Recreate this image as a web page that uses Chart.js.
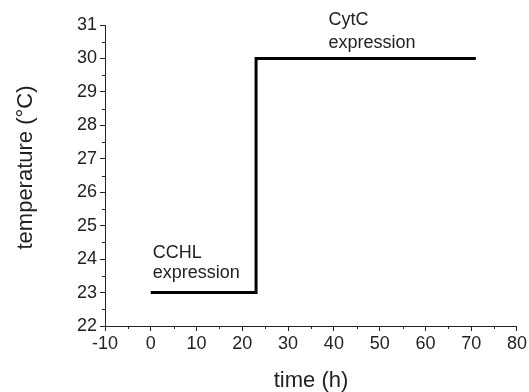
<!DOCTYPE html>
<html>
<head>
<meta charset="utf-8">
<script src="https://cdn.jsdelivr.net/npm/chart.js@4"></script>
<style>
  html, body { margin: 0; padding: 0; background: #fff; }
  #wrap { width: 529px; height: 392px; }
</style>
</head>
<body>
<div id="wrap"><canvas id="myChart"></canvas></div>
<script>
// data
const timeHours = [0, 23, 23, 71];
const temperature = [23, 23, 30, 30];
const xTicks = [-10, 0, 10, 20, 30, 40, 50, 60, 70, 80];
const yTicks = [22, 23, 24, 25, 26, 27, 28, 29, 30, 31];
const noteText = [['CCHL', 'expression'], ['CytC', 'expression']];
const noteAt = [{ x: 0, y: 23 }, { x: 38.4, y: 30 }];
const yTitle = 'temperature (°C)';

const FONT = "'Liberation Sans', Arial, sans-serif";

// minor ticks, text notes and the y title (sits a bit above centre in the original)
const extras = {
  id: 'extras',
  afterDraw(chart) {
    const ctx = chart.ctx;
    const xs = chart.scales.x, ys = chart.scales.y;
    ctx.save();
    ctx.strokeStyle = '#222';
    ctx.lineWidth = 1;
    for (let v = -5; v < 80; v += 10) {
      const px = Math.round(xs.getPixelForValue(v)) + 0.5;
      ctx.beginPath();
      ctx.moveTo(px, ys.bottom);
      ctx.lineTo(px, ys.bottom + 3);
      ctx.stroke();
    }
    for (let v = 22.5; v < 31; v += 1) {
      const py = Math.round(ys.getPixelForValue(v)) + 0.5;
      ctx.beginPath();
      ctx.moveTo(xs.left, py);
      ctx.lineTo(xs.left - 3, py);
      ctx.stroke();
    }
    ctx.fillStyle = '#222';
    ctx.font = '18px ' + FONT;
    ctx.textAlign = 'left';
    ctx.textBaseline = 'alphabetic';
    // first note sits a little higher above its line than the second
    const lift = [[35, 15], [33, 10]];
    noteText.forEach((lines, i) => {
      const px = xs.getPixelForValue(noteAt[i].x) + 2;
      const py = ys.getPixelForValue(noteAt[i].y);
      ctx.fillText(lines[0], px, py - lift[i][0]);
      ctx.fillText(lines[1], px, py - lift[i][1]);
    });

    ctx.font = '22px ' + FONT;
    ctx.textAlign = 'center';
    ctx.textBaseline = 'middle';
    ctx.translate(26, (ys.top + ys.bottom) / 2 - 8);
    ctx.rotate(-Math.PI / 2);
    ctx.fillText(yTitle, 0, 0);
    ctx.restore();
  }
};

new Chart(document.getElementById('myChart'), {
  type: 'line',
  data: {
    datasets: [{
      data: timeHours.map((t, i) => ({ x: t, y: temperature[i] })),
      borderColor: '#000',
      borderWidth: 3,
      pointRadius: 0,
      fill: false,
      tension: 0
    }]
  },
  options: {
    responsive: true,
    maintainAspectRatio: false,
    animation: false,
    layout: { padding: { top: 25, right: 12, left: 0, bottom: 0 } },
    plugins: { legend: { display: false }, tooltip: { enabled: false } },
    scales: {
      x: {
        type: 'linear',
        min: -10,
        max: 80,
        afterBuildTicks: s => { s.ticks = xTicks.map(v => ({ value: v })); },
        afterFit: s => { s.height = 66; },
        border: { display: true, color: '#222', width: 1 },
        grid: { display: true, drawOnChartArea: false, tickLength: 5, color: '#222' },
        ticks: { color: '#222', padding: 2, font: { family: FONT, size: 18 } },
        title: {
          display: true,
          text: 'time (h)',
          color: '#222',
          padding: { top: 0, bottom: 0 },
          font: { family: FONT, size: 22, lineHeight: 1 }
        }
      },
      y: {
        min: 22,
        max: 31,
        afterBuildTicks: s => { s.ticks = yTicks.map(v => ({ value: v })); },
        afterFit: s => { s.width = 105; },
        border: { display: true, color: '#222', width: 1 },
        grid: { display: true, drawOnChartArea: false, tickLength: 5, color: '#222' },
        ticks: { color: '#222', padding: 3, font: { family: FONT, size: 18 } },
        title: { display: false }
      }
    }
  },
  plugins: [extras]
});
</script>
</body>
</html>
